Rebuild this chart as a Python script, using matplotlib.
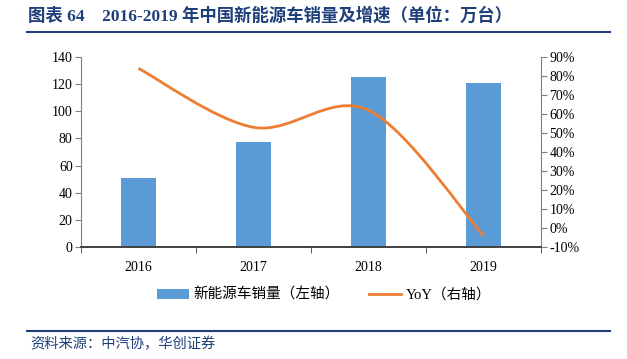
import matplotlib.pyplot as plt
import numpy as np
from matplotlib.path import Path
from matplotlib.patches import PathPatch
from matplotlib.lines import Line2D
from matplotlib.patches import Patch

plt.rcParams['font.family'] = ['Liberation Serif', 'Noto Sans CJK SC']

years = ['2016', '2017', '2018', '2019']
sales = [50.7, 77.7, 125.6, 120.6]      # 万台, left axis
yoy = [84.0, 53.0, 62.0, -4.0]          # %, right axis

bar_color = '#5B9BD5'
line_color = '#ED7D31'
navy = '#1F3F7A'

fig = plt.figure(figsize=(6.27, 3.59), dpi=100)
ax = fig.add_axes([81 / 627, 1 - 247 / 359, 460 / 627, 190 / 359])
ax2 = ax.twinx()

x = np.arange(len(years))
ax.bar(x, sales, width=0.31, color=bar_color, zorder=2)
ax.set_xlim(-0.5, 3.5)
ax.set_ylim(0, 140)
ax.set_yticks(range(0, 141, 20))
ax.set_xticks(x)
ax.set_xticklabels(years, fontsize=10)
ax.set_xticks(np.arange(-0.5, 3.6, 1), minor=True)
ax.tick_params(axis='x', which='major', length=0, pad=10)
ax.tick_params(axis='x', which='minor', length=4, direction='out', color='#404040')
ax.tick_params(axis='y', labelsize=10, length=4, color='#808080', pad=2)

# smoothed line (cubic Bezier through the points, like Excel's smooth line)
pts = np.column_stack([x, yoy]).astype(float)
verts = [tuple(pts[0])]
codes = [Path.MOVETO]
n = len(pts)
for i in range(n - 1):
    p0 = pts[i - 1] if i > 0 else pts[i]
    p1 = pts[i]
    p2 = pts[i + 1]
    p3 = pts[i + 2] if i + 2 < n else pts[i + 1]
    c1 = p1 + (p2 - p0) / 6
    c2 = p2 - (p3 - p1) / 6
    verts += [tuple(c1), tuple(c2), tuple(p2)]
    codes += [Path.CURVE4] * 3
ax2.add_patch(PathPatch(Path(verts, codes), facecolor='none', edgecolor=line_color, lw=2, zorder=3))
ax2.set_ylim(-10, 90)
ax2.set_yticks(range(-10, 91, 10))
ax2.set_yticklabels([f'{v}%' for v in range(-10, 91, 10)])
ax2.tick_params(axis='y', labelsize=10, length=4, color='#808080', pad=2)

for a in (ax, ax2):
    a.spines['top'].set_visible(False)
    a.spines['left'].set_color('#808080')
    a.spines['right'].set_color('#808080')
    a.spines['bottom'].set_color('#404040')
    a.spines['bottom'].set_linewidth(1.2)
ax2.spines['left'].set_visible(False)
ax.spines['right'].set_visible(False)

# legend
handles = [Patch(facecolor=bar_color, edgecolor='none'),
           Line2D([0], [0], color=line_color, lw=2)]
labels = ['新能源车销量（左轴）', 'YoY（右轴）']
fig.legend(handles, labels, loc='center left', bbox_to_anchor=(157 / 627, 1 - 295 / 359), ncol=2,
           frameon=False, borderpad=0, borderaxespad=0, handlelength=2.2, handleheight=0.6,
           handletextpad=0.3, columnspacing=2.0,
           prop={'family': ['Liberation Serif', 'Noto Sans CJK SC'], 'size': 10.5})

# title and source
fig.text(28 / 627, 1 - 16 / 359, '图表 64    2016-2019 年中国新能源车销量及增速（单位：万台）',
         fontsize=12.5, fontweight='bold', color=navy, va='center', ha='left',
         family=['Liberation Serif', 'Noto Sans CJK SC'])
fig.add_artist(Line2D([27 / 627, 610 / 627], [1 - 32 / 359] * 2, color=navy, lw=1.5))
fig.add_artist(Line2D([27 / 627, 610 / 627], [1 - 331 / 359] * 2, color=navy, lw=1.5))
fig.text(30 / 627, 1 - 344 / 359, '资料来源：中汽协，华创证券', fontsize=10.3, style='italic',
         color=navy, va='center', ha='left', family=['Noto Sans CJK SC'])

fig.savefig('out.png', dpi=100)
